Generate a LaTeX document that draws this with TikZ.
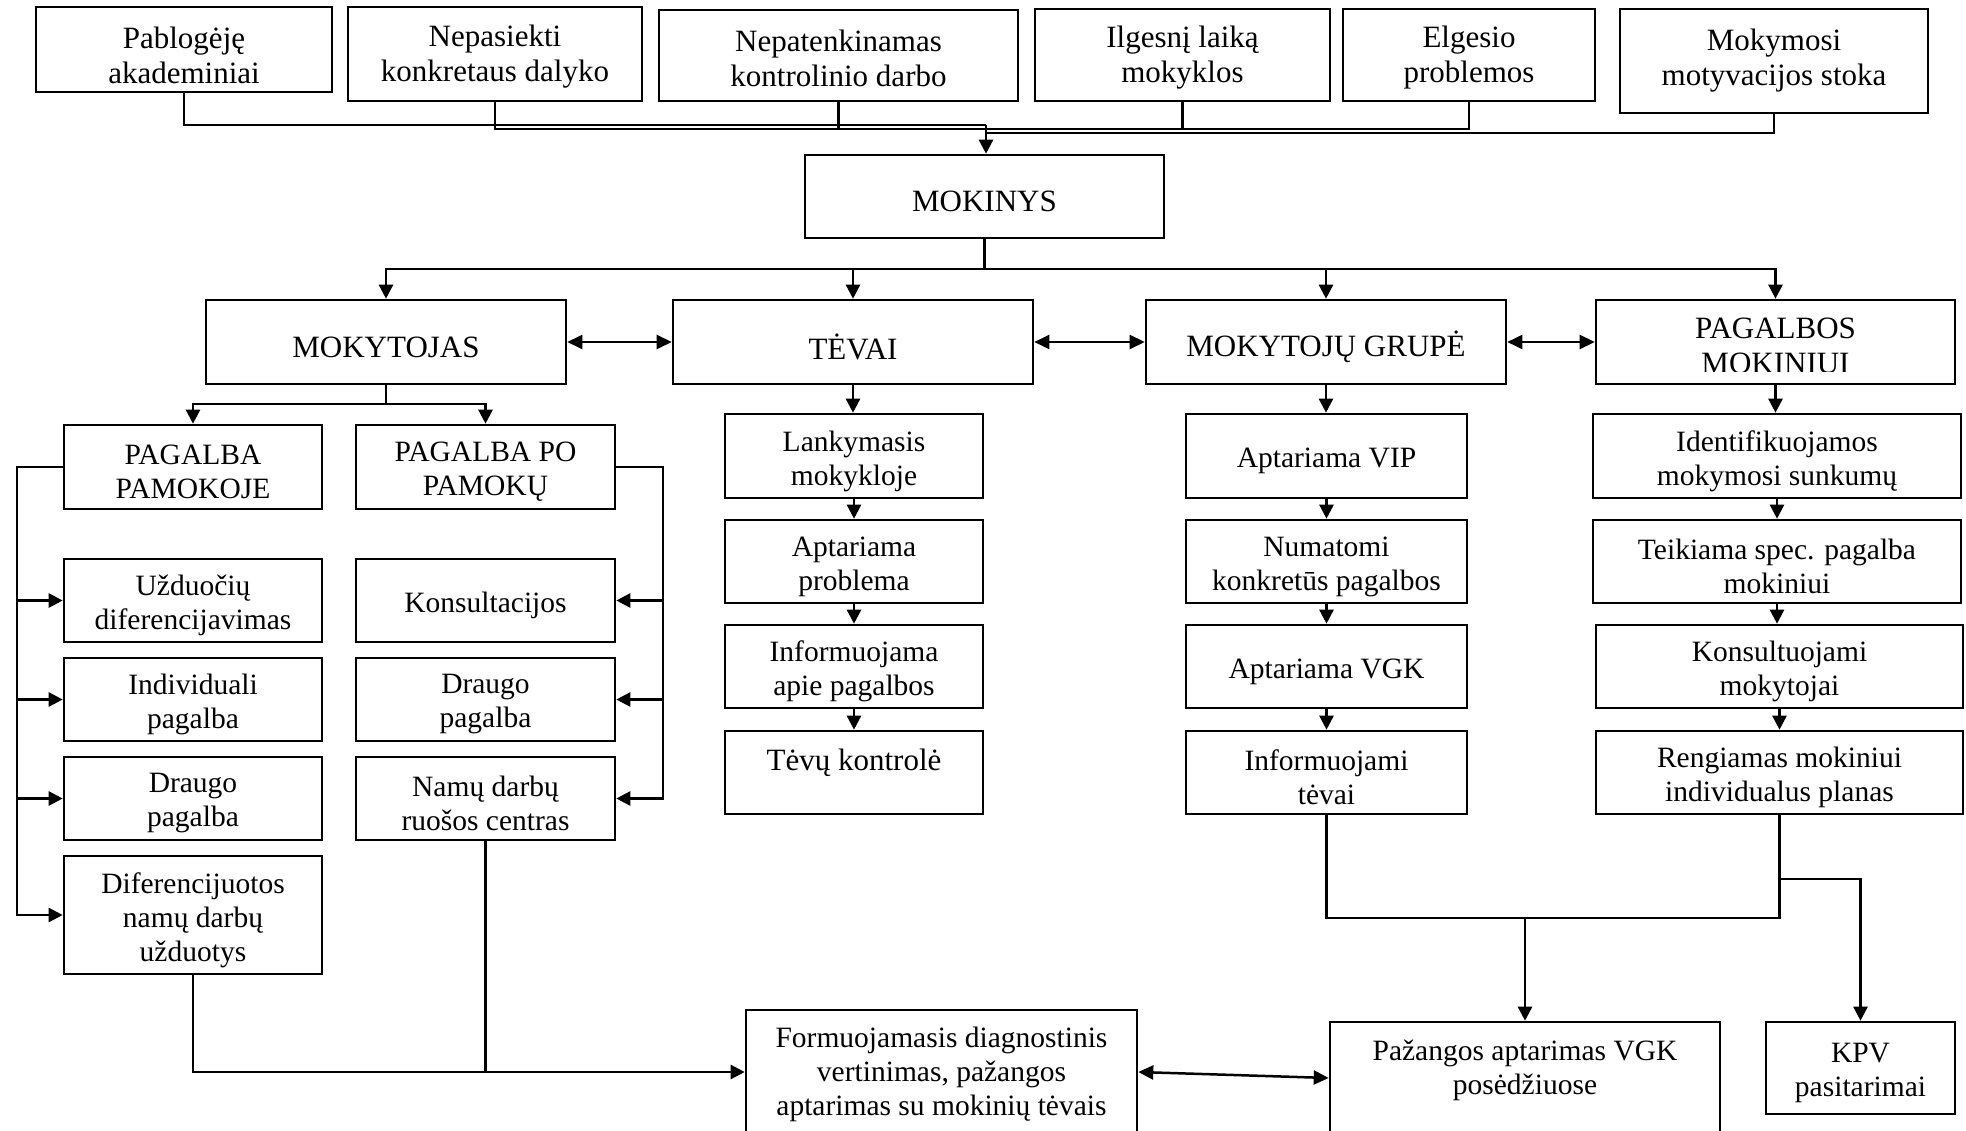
\documentclass[tikz,border=0pt]{standalone}
\usepackage{fontspec}
\setmainfont{Liberation Serif}
\usetikzlibrary{arrows.meta}
\newcommand\mybox[7][]{%
  \node[box, minimum width={(#5-#3)*1pt}, minimum height={(#6-#4)*1pt}] (#2) at ({(#3+#5)/2},{(#4+#6)/2}) {};
  \node[txt,#1] (#2-t) at (#2.center) {#7};}
\tikzset{
  box/.style={draw, line width=2.6pt, inner sep=0pt},
  txt/.style={align=center, inner sep=0pt, font=\fontsize{29.5}{34}\selectfont},
  bigtxt/.style={font=\fontsize{31}{35}\selectfont},
  lo/.style={yshift=-5pt},
  line/.style={line width=2.5pt},
  arr/.style={line, -{Triangle[length=14pt,width=14pt]}},
  darr/.style={line, {Triangle[length=15pt,width=14pt]}-{Triangle[length=15pt,width=14pt]}}
}
\begin{document}
\begin{tikzpicture}[x=1pt,y=-1pt]
\useasboundingbox (0,0) rectangle (1966,1131);
\clip (0,0) rectangle (1966,1131);
% top row
\mybox[bigtxt,yshift=-6pt]{p1}{36}{7}{332}{92}{Pablogėję\\akademiniai}
\mybox[bigtxt,yshift=-3pt]{p2}{348}{7}{642}{101}{Nepasiekti\\konkretaus dalyko}
\mybox[bigtxt,yshift=-3pt]{p3}{659}{10}{1018}{101}{Nepatenkinamas\\kontrolinio darbo}
\mybox[bigtxt,yshift=-3pt]{p4}{1035}{9}{1330}{101}{Ilgesnį laiką\\mokyklos}
\mybox[bigtxt,yshift=-3pt]{p5}{1343}{9}{1595}{101}{Elgesio\\problemos}
\mybox[bigtxt]{p6}{1620}{9}{1928}{113}{Mokymosi\\motyvacijos stoka}
\mybox[bigtxt,yshift=-5pt]{mok}{805}{155}{1164}{238}{MOKINYS}
% level 2
\mybox[bigtxt,lo]{t1}{206}{300}{566}{384}{MOKYTOJAS}
\mybox[bigtxt,lo]{t2}{673}{300}{1033}{384}{TĖVAI}
\mybox[bigtxt,lo]{t3}{1146}{300}{1506}{384}{MOKYTOJŲ GRUPĖ}
\node[box, minimum width=359pt, minimum height=84pt] (t4) at (1775.5,342) {};
\begin{scope}
\clip (1600,304) rectangle (1951,372);
\node[txt,bigtxt] (t4-t) at (1775.5,346) {PAGALBOS\\MOKINIUI};
\end{scope}
% MOKYTOJAS branch
\mybox[lo]{a1}{64}{425}{322}{509}{PAGALBA\\PAMOKOJE}
\mybox[lo]{a2}{356}{425}{615}{509}{PAGALBA PO\\PAMOKŲ}
\mybox[lo]{a3}{64}{559}{322}{642}{Užduočių\\diferencijavimas}
\mybox[lo]{a4}{356}{559}{615}{642}{Konsultacijos}
\mybox[lo]{a5}{64}{658}{322}{741}{Individuali\\pagalba}
\mybox[lo]{a6}{356}{658}{615}{741}{Draugo\\pagalba}
\mybox[lo]{a7}{64}{757}{322}{840}{Draugo\\pagalba}
\mybox[lo]{a8}{356}{757}{615}{840}{Namų darbų\\ruošos centras}
\mybox[lo]{a9}{64}{856}{322}{974}{Diferencijuotos\\namų darbų\\užduotys}
% TEVAI branch
\mybox[lo]{b1}{725}{414}{983}{498}{Lankymasis\\mokykloje}
\mybox[lo]{b2}{725}{520}{983}{603}{Aptariama\\problema}
\mybox[lo]{b3}{725}{625}{983}{708}{Informuojama\\apie pagalbos}
\mybox[bigtxt,yshift=10pt]{b4}{725}{731}{983}{814}{Tėvų kontrolė}
% MOKYTOJU GRUPE branch
\mybox[lo]{c1}{1186}{414}{1467}{498}{Aptariama VIP}
\mybox[lo]{c2}{1186}{520}{1467}{603}{Numatomi\\konkretūs pagalbos}
\mybox[lo]{c3}{1186}{625}{1467}{708}{Aptariama VGK}
\mybox[lo]{c4}{1186}{731}{1467}{814}{Informuojami\\tėvai}
% PAGALBOS branch
\mybox[lo]{d1}{1593}{414}{1961}{498}{Identifikuojamos\\mokymosi sunkumų}
\mybox[lo]{d2}{1593}{520}{1961}{603}{Teikiama spec. pagalba\\mokiniui}
\mybox[lo]{d3}{1596}{625}{1963}{708}{Konsultuojami\\mokytojai}
\mybox[lo]{d4}{1596}{731}{1963}{814}{Rengiamas mokiniui\\individualus planas}
% bottom
\mybox[yshift=4pt]{e1}{746}{1010}{1137}{1146}{Formuojamasis diagnostinis\\vertinimas, pažangos\\aptarimas su mokinių tėvais}
\mybox[yshift=16pt]{e2}{1330}{1022}{1720}{1150}{Pažangos aptarimas VGK\\posėdžiuose}
\mybox[yshift=-5pt]{e3}{1766}{1022}{1955}{1114}{KPV\\pasitarimai}

% top connectors
\coordinate (jA) at (986,125);
\coordinate (jB) at (986,129);
\coordinate (jC) at (986,133);
\draw[line] (p1.south) |- (jA);
\draw[arr] (jA) -- (jA |- mok.north);
\draw[line] (p2.south) |- (jB);
\draw[line] (p3.south) -- (p3.south |- jB);
\draw[line] (p5.south) |- (jB);
\draw[line] (p4.south) -- (p4.south |- jB);
\draw[line] (p6.south) |- (jC);
% MOKINYS bus
\coordinate (bus) at (984.5,269);
\draw[line] (mok.south) -- (bus);
\draw[arr] (bus) -| (t1.north);
\draw[arr] (bus) -| (t4.north);
\draw[arr] (bus -| t2.north) -- (t2.north);
\draw[arr] (bus -| t3.north) -- (t3.north);
\draw[darr] (t1.east) -- (t2.west);
\draw[darr] (t2.east) -- (t3.west);
\draw[darr] (t3.east) -- (t4.west);
% MOKYTOJAS
\coordinate (tj) at (386,404);
\draw[line] (t1.south) -- (tj);
\draw[arr] (tj) -| (a1.north);
\draw[arr] (tj) -| (a2.north);
\coordinate (lb) at (17,467);
\draw[arr] (a1.west) -- (lb) |- (a9.west);
\draw[arr] (lb |- a3.west) -- (a3.west);
\draw[arr] (lb |- a5.west) -- (a5.west);
\draw[arr] (lb |- a7.west) -- (a7.west);
\coordinate (rb) at (663,467);
\draw[arr] (a2.east) -- (rb) |- (a8.east);
\draw[arr] (rb |- a4.east) -- (a4.east);
\draw[arr] (rb |- a6.east) -- (a6.east);
\coordinate (bj) at (485.5,1072);
\draw[line] (a9.south) |- (bj);
\draw[line] (a8.south) -- (bj);
\draw[arr] (bj) -- (bj -| e1.west);
% TEVAI
\draw[arr] (t2.south) -- (t2.south |- b1.north);
\draw[arr] (b1.south) -- (b2.north);
\draw[arr] (b2.south) -- (b3.north);
\draw[arr] (b3.south) -- (b3.south |- b4.north);
% MOKYTOJU GRUPE
\draw[arr] (t3.south) -- (t3.south |- c1.north);
\draw[arr] (c1.south) -- (c2.north);
\draw[arr] (c2.south) -- (c3.north);
\draw[arr] (c3.south) -- (c3.south |- c4.north);
% PAGALBOS
\draw[arr] (t4.south) -- (t4.south |- d1.north);
\draw[arr] (d1.south) -- (d2.north);
\draw[arr] (d2.south) -- (d2.south |- d3.north);
\draw[arr] (d3.south) -- (d4.north);
% bottom merges
\coordinate (mj) at (1525,918);
\draw[line] (c4.south) |- (d4.south |- mj) -- (d4.south);
\draw[arr] (mj) -- (mj |- e2.north);
\coordinate (kj) at (1779.5,879);
\draw[arr] (kj) -| (e3.north);
\draw[darr] ([yshift=6pt]e1.east) -- ([yshift=8pt]e2.west);
\end{tikzpicture}
\end{document}
